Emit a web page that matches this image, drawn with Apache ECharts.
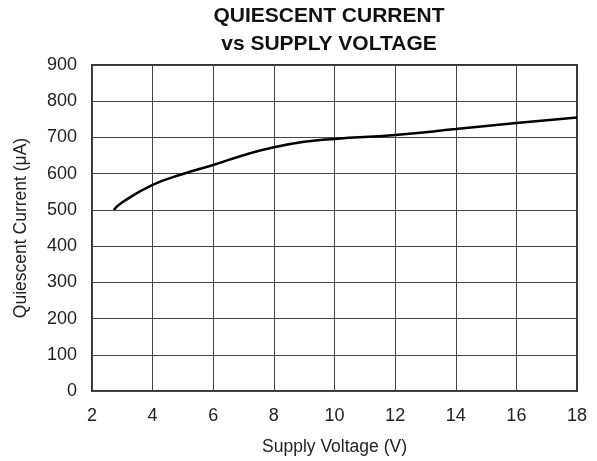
<!DOCTYPE html>
<html>
<head>
<meta charset="utf-8">
<script src="https://cdn.jsdelivr.net/npm/echarts@6/dist/echarts.min.js"></script>
<style>
html,body{margin:0;padding:0;background:#fff;}
#main{width:597px;height:461px;}
</style>
</head>
<body>
<div id="main"></div>
<script>
// 数据
var voltage = [2.72, 3, 4, 5, 6, 7, 8, 9, 10, 12, 14, 16, 18];
var current = [500, 521, 569, 599, 624, 651, 673, 688, 696, 707, 723, 740, 755];
var xTicks = [2, 4, 6, 8, 10, 12, 14, 16, 18];

var seriesData = [];
voltage.forEach(function(v, i) {
	seriesData.push([v, current[i]]);
});

var myChart = echarts.init(document.getElementById('main'));
var font = 'Liberation Sans, Arial, sans-serif';
var option = {
	backgroundColor : '#fff',
	animation : false,
	title : {
		text : 'QUIESCENT CURRENT\nvs SUPPLY VOLTAGE',
		left : 329,
		textAlign : 'center',
		top : 2,
		padding : 0,
		textStyle : {
			fontFamily : font,
			fontWeight : 'bold',
			fontSize : 21,
			lineHeight : 28,
			color : '#111'
		}
	},
	grid : {
		left : 92,
		right : 20,
		top : 65,
		bottom : 66,
		show : true,
		borderColor : '#333',
		borderWidth : 2
	},
	xAxis : {
		type : 'value',
		min : 2,
		max : 18,
		interval : 2,
		name : 'Supply Voltage (V)',
		nameLocation : 'middle',
		nameGap : 47,
		nameTextStyle : { fontFamily : font, fontSize : 17.5, color : '#222' },
		axisLine : { show : false },
		axisTick : { show : false },
		axisLabel : {
			margin : 16,
			fontFamily : font,
			fontSize : 18,
			color : '#222',
			formatter : function(v) { return xTicks.indexOf(v) >= 0 ? v : ''; }
		},
		splitLine : { show : true, lineStyle : { color : '#444', width : 1 } }
	},
	yAxis : {
		type : 'value',
		min : 0,
		max : 900,
		interval : 100,
		name : 'Quiescent Current (\u03bcA)',
		nameLocation : 'middle',
		nameGap : 62,
		nameTextStyle : { fontFamily : font, fontSize : 17.5, color : '#222' },
		axisLine : { show : false },
		axisTick : { show : false },
		axisLabel : {
			margin : 15,
			fontFamily : font,
			fontSize : 18,
			color : '#222'
		},
		splitLine : { show : true, lineStyle : { color : '#444', width : 1 } }
	},
	series : [ {
		type : 'line',
		smooth : true,
		symbol : 'none',
		lineStyle : { color : '#000', width : 2.5 },
		data : seriesData
	} ]
};
myChart.setOption(option, true);
</script>
</body>
</html>
